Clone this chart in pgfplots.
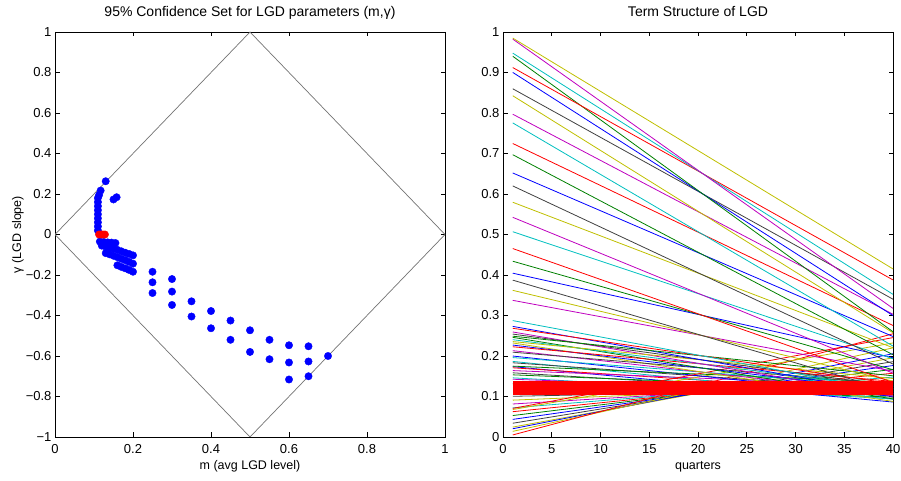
\documentclass[border=0pt]{standalone}
\usepackage{pgfplots}
\pgfplotsset{compat=1.18}
\usepackage{fontspec}
\setmainfont{Liberation Sans}
\definecolor{mb}{rgb}{0,0,1}
\definecolor{mg}{rgb}{0,0.5,0}
\definecolor{mr}{rgb}{1,0,0}
\definecolor{mc}{rgb}{0,0.75,0.75}
\definecolor{mm}{rgb}{0.75,0,0.75}
\definecolor{my}{rgb}{0.75,0.75,0}
\definecolor{mk}{rgb}{0.25,0.25,0.25}
\pgfplotsset{mlab/.style={
  scale only axis, width=390pt, height=405pt, anchor=south west,
  axis line style={line width=0.9pt, black},
  every tick/.style={line width=0.9pt, black},
  major tick length=4.5pt, tick align=inside,
  /pgf/number format/assume math mode=true,
  tick label style={font=\fontsize{13}{15}\selectfont},
  label style={font=\fontsize{12.5}{14}\selectfont},
  title style={font=\fontsize{14}{16}\selectfont, anchor=base, at={(0.5,1)}, yshift=9pt},
  xticklabel style={yshift=-4pt},
  xlabel style={at={(axis description cs:0.5,0)}, anchor=base, yshift=-33pt},
}}
\begin{document}
\begin{tikzpicture}
\path[use as bounding box] (0,0) rectangle (901pt,481pt);
% ---------------- left: confidence set ----------------
\begin{axis}[mlab, at={(55pt,44pt)},
  xmin=0, xmax=1, ymin=-1, ymax=1,
  xtick={0,0.2,0.4,0.6,0.8,1}, xticklabels={0,0.2,0.4,0.6,0.8,1},
  ytick={-1,-0.8,-0.6,-0.4,-0.2,0,0.2,0.4,0.6,0.8,1},
  yticklabels={−1,−0.8,−0.6,−0.4,−0.2,0,0.2,0.4,0.6,0.8,1},
  title={95\% Confidence Set for LGD parameters (m,γ)},
  xlabel={m (avg LGD level)},
  ylabel={γ (LGD slope)},
  ylabel style={at={(axis description cs:-0.095,0.5)}, anchor=center},
]
\addplot[black!55, line width=0.7pt] coordinates {(0,0) (0.5,1) (1,0) (0.5,-1) (0,0)};
\addplot[only marks, mark=*, mark size=3.7pt, mark options={draw=mb, fill=mb}] coordinates {
(0.11,0.18) (0.11,0.16) (0.11,0.14) (0.11,0.12) (0.11,0.10) (0.11,0.08) (0.11,0.06) (0.11,0.04) (0.11,0.02)
(0.113,0.195) (0.115,-0.035) (0.117,0.217) (0.12,-0.055) (0.125,-0.037) (0.13,0.263) (0.13,-0.06) (0.13,-0.092)
(0.135,-0.039) (0.14,-0.065) (0.14,-0.098) (0.145,-0.04) (0.15,0.173) (0.15,-0.07) (0.15,-0.105) (0.155,-0.042)
(0.158,0.184) (0.16,-0.076) (0.16,-0.112) (0.16,-0.152) (0.17,-0.083) (0.17,-0.12) (0.17,-0.16)
(0.18,-0.09) (0.18,-0.127) (0.18,-0.167) (0.19,-0.096) (0.19,-0.135) (0.19,-0.175)
(0.2,-0.103) (0.2,-0.144) (0.2,-0.184) (0.25,-0.184) (0.25,-0.236) (0.25,-0.289)
(0.3,-0.22) (0.3,-0.282) (0.3,-0.348) (0.35,-0.33) (0.35,-0.405) (0.4,-0.378) (0.4,-0.463)
(0.45,-0.425) (0.45,-0.52) (0.5,-0.473) (0.5,-0.58) (0.55,-0.52) (0.55,-0.616)
(0.6,-0.547) (0.6,-0.632) (0.6,-0.716) (0.65,-0.552) (0.65,-0.627) (0.65,-0.7) (0.7,-0.6)
};
\addplot[only marks, mark=*, mark size=3.7pt, mark options={draw=mr, fill=mr}] coordinates {
(0.113,0) (0.118,0) (0.123,0) (0.128,0)
};
\end{axis}
% ---------------- right: term structure ----------------
\begin{axis}[mlab, at={(503pt,44pt)},
  xmin=0, xmax=40, ymin=0, ymax=1,
  xtick={0,5,10,15,20,25,30,35,40},
  ytick={0,0.1,0.2,0.3,0.4,0.5,0.6,0.7,0.8,0.9,1},
  title={Term Structure of LGD},
  xlabel={quarters},
  every axis plot/.append style={line width=0.8pt},
]
\addplot[my] coordinates {(1,0.0245) (40,0.1955)};
\addplot[mk] coordinates {(1,0.0340) (40,0.1860)};
\addplot[mb] coordinates {(1,0.0435) (40,0.1765)};
\addplot[mg] coordinates {(1,0.0530) (40,0.1670)};
\addplot[mr] coordinates {(1,0.0625) (40,0.1575)};
\addplot[mc] coordinates {(1,0.0720) (40,0.1480)};
\addplot[mm] coordinates {(1,0.0815) (40,0.1385)};
\addplot[my] coordinates {(1,0.0910) (40,0.1290)};
\addplot[mk] coordinates {(1,0.1005) (40,0.1195)};
\addplot[mb] coordinates {(1,0.0204) (40,0.2056)};
\addplot[mg] coordinates {(1,0.1316) (40,0.0984)};
\addplot[my] coordinates {(1,0.0139) (40,0.2201)};
\addplot[mc] coordinates {(1,0.1461) (40,0.0939)};
\addplot[mm] coordinates {(1,0.1426) (40,0.1074)};
\addplot[mr] coordinates {(1,0.0051) (40,0.2549)};
\addplot[mk] coordinates {(1,0.1585) (40,0.1015)};
\addplot[mb] coordinates {(1,0.1737) (40,0.0863)};
\addplot[mg] coordinates {(1,0.1535) (40,0.1165)};
\addplot[mr] coordinates {(1,0.1709) (40,0.1091)};
\addplot[mc] coordinates {(1,0.1866) (40,0.0934)};
\addplot[mm] coordinates {(1,0.1640) (40,0.1260)};
\addplot[my] coordinates {(1,0.0678) (40,0.2322)};
\addplot[mk] coordinates {(1,0.1833) (40,0.1167)};
\addplot[mb] coordinates {(1,0.1999) (40,0.1001)};
\addplot[mg] coordinates {(1,0.1750) (40,0.1350)};
\addplot[mr] coordinates {(1,0.0706) (40,0.2454)};
\addplot[mc] coordinates {(1,0.1961) (40,0.1239)};
\addplot[mm] coordinates {(1,0.2132) (40,0.1068)};
\addplot[my] coordinates {(1,0.2322) (40,0.0878)};
\addplot[mk] coordinates {(1,0.2094) (40,0.1306)};
\addplot[mb] coordinates {(1,0.2270) (40,0.1130)};
\addplot[mg] coordinates {(1,0.2460) (40,0.0940)};
\addplot[mr] coordinates {(1,0.2228) (40,0.1372)};
\addplot[mc] coordinates {(1,0.2403) (40,0.1197)};
\addplot[mm] coordinates {(1,0.2593) (40,0.1007)};
\addplot[my] coordinates {(1,0.2356) (40,0.1444)};
\addplot[mk] coordinates {(1,0.2541) (40,0.1259)};
\addplot[mb] coordinates {(1,0.2731) (40,0.1069)};
\addplot[mg] coordinates {(1,0.2489) (40,0.1511)};
\addplot[mr] coordinates {(1,0.2684) (40,0.1316)};
\addplot[mc] coordinates {(1,0.2874) (40,0.1126)};
\addplot[mm] coordinates {(1,0.3374) (40,0.1626)};
\addplot[my] coordinates {(1,0.3621) (40,0.1379)};
\addplot[mk] coordinates {(1,0.3873) (40,0.1127)};
\addplot[mb] coordinates {(1,0.4045) (40,0.1955)};
\addplot[mg] coordinates {(1,0.4340) (40,0.1660)};
\addplot[mr] coordinates {(1,0.4653) (40,0.1347)};
\addplot[mc] coordinates {(1,0.5068) (40,0.1932)};
\addplot[mm] coordinates {(1,0.5424) (40,0.1576)};
\addplot[my] coordinates {(1,0.5796) (40,0.2204)};
\addplot[mk] coordinates {(1,0.6199) (40,0.1801)};
\addplot[mb] coordinates {(1,0.6519) (40,0.2481)};
\addplot[mg] coordinates {(1,0.6970) (40,0.2030)};
\addplot[mr] coordinates {(1,0.7247) (40,0.2753)};
\addplot[mc] coordinates {(1,0.7755) (40,0.2245)};
\addplot[mm] coordinates {(1,0.7970) (40,0.3030)};
\addplot[my] coordinates {(1,0.8426) (40,0.2574)};
\addplot[mk] coordinates {(1,0.8598) (40,0.3402)};
\addplot[mb] coordinates {(1,0.9002) (40,0.2998)};
\addplot[mg] coordinates {(1,0.9401) (40,0.2599)};
\addplot[mr] coordinates {(1,0.9122) (40,0.3878)};
\addplot[mc] coordinates {(1,0.9478) (40,0.3522)};
\addplot[mm] coordinates {(1,0.9825) (40,0.3175)};
\addplot[my] coordinates {(1,0.9850) (40,0.4150)};
% thick red band
\addplot[mr, line width=7.5pt] coordinates {(1,0.113) (40,0.113)};
\addplot[mr, line width=7.5pt] coordinates {(1,0.118) (40,0.118)};
\addplot[mr, line width=7.5pt] coordinates {(1,0.123) (40,0.123)};
\addplot[mr, line width=7.5pt] coordinates {(1,0.128) (40,0.128)};
\end{axis}
\end{tikzpicture}
\end{document}
